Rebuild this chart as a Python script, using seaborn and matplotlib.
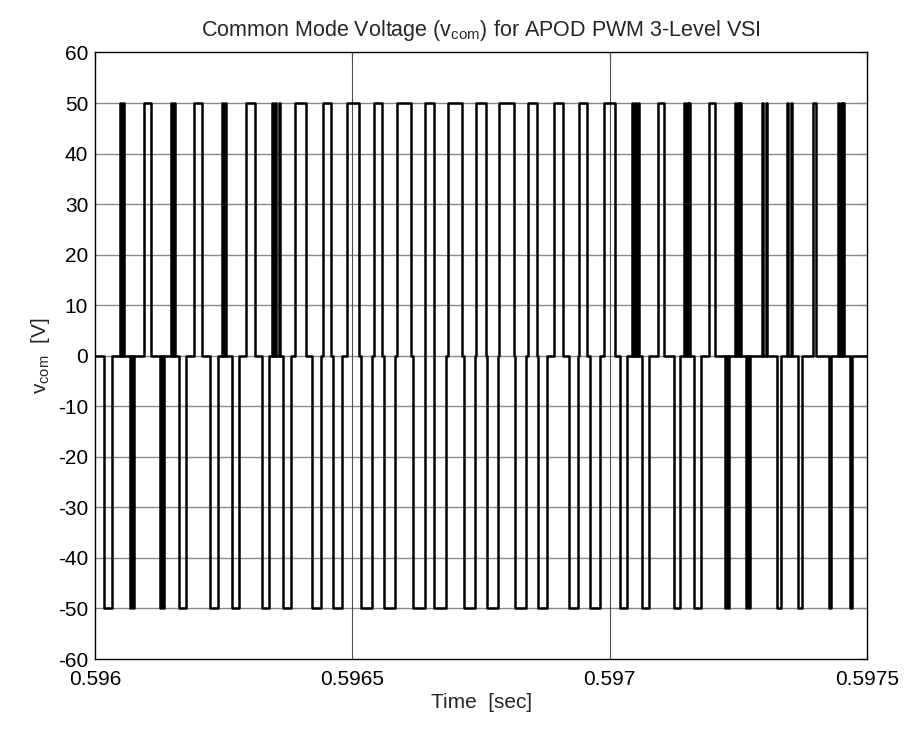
import numpy as np
import pandas as pd
import matplotlib
matplotlib.use("Agg")
import matplotlib.pyplot as plt
import seaborn as sns

sns.set_theme(style="white")
plt.rcParams['font.family'] = ['Liberation Sans', 'DejaVu Sans']
plt.rcParams['mathtext.fontset'] = 'custom'
plt.rcParams['mathtext.rm'] = 'Liberation Sans'
plt.rcParams['axes.unicode_minus'] = False

# ---- data (time offsets in microseconds after t0 = 0.596 s) ----
t0 = 0.596
pos_on = [47.6, 53.4, 95.6, 148.1, 153.1, 192.7, 245.8, 251.6, 293.8,
          344.3, 349.7, 357.1, 389.0, 443.4, 490.0, 542.5, 587.2, 641.6,
          686.3, 740.7, 785.4, 841.7, 892.2, 940.8, 989.4, 1043.8, 1049.2,
          1054.7, 1094.3, 1144.8, 1149.3, 1153.8, 1193.4, 1243.9, 1248.4,
          1252.8, 1296.4, 1303.4, 1344.9, 1351.9, 1395.5, 1444.0, 1448.5,
          1453.0]
pos_off = [49.5, 55.4, 108.4, 150.0, 155.1, 207.5, 247.7, 253.6, 310.5,
           346.2, 351.7, 359.1, 409.6, 458.2, 512.6, 557.3, 613.6, 658.3,
           712.7, 759.3, 813.7, 858.4, 908.9, 955.6, 1010.0, 1045.7, 1051.2,
           1056.6, 1105.2, 1146.8, 1151.3, 1155.7, 1204.3, 1245.8, 1250.3,
           1254.8, 1298.3, 1305.3, 1346.9, 1353.9, 1400.5, 1446.0, 1450.4,
           1454.9]
neg_on = [17.9, 68.0, 73.8, 126.3, 132.1, 163.6, 223.8, 266.6, 324.9,
          365.7, 422.0, 462.8, 517.2, 561.9, 618.3, 659.1, 717.3, 762.0,
          816.4, 861.1, 921.4, 962.2, 1020.5, 1063.2, 1125.4, 1164.3,
          1224.1, 1229.9, 1264.9, 1270.7, 1325.5, 1366.3, 1426.6, 1467.4]
neg_off = [32.6, 69.9, 75.8, 128.2, 134.1, 176.4, 238.6, 279.4, 337.7,
           380.4, 438.7, 479.5, 537.8, 582.5, 640.8, 681.6, 737.9, 782.6,
           837.0, 877.8, 938.1, 980.8, 1033.3, 1076.0, 1136.3, 1177.1,
           1226.1, 1231.9, 1266.8, 1272.6, 1332.5, 1373.3, 1429.7, 1470.5]
pos_level = 50.0
neg_level = -50.0
t_end_us = 1500.0

# ---- build step waveform ----
pulses = [(a, b, pos_level) for a, b in zip(pos_on, pos_off)] + \
         [(a, b, neg_level) for a, b in zip(neg_on, neg_off)]
pulses.sort()
xs, ys = [0.0], [0.0]
for a, b, lv in pulses:
    xs += [a, a, b, b]
    ys += [0.0, lv, lv, 0.0]
xs.append(t_end_us)
ys.append(0.0)
df = pd.DataFrame({"t": t0 + np.array(xs) * 1e-6, "v": ys})

fig = plt.figure(figsize=(9.06, 7.29), dpi=100)
ax = fig.add_axes([0.105, 0.096, 0.852, 0.832])

ax.set_xlim(0.596, 0.5975)
ax.set_ylim(-60, 60)
xt = [0.596, 0.5965, 0.597, 0.5975]
ax.set_xticks(xt)
ax.set_xticklabels(["0.596", "0.5965", "0.597", "0.5975"])
ax.set_yticks(np.arange(-60, 61, 10))
for y in np.arange(-50, 51, 10):
    ax.axhline(y, color="#8a8a8a", lw=1.0, zorder=1)
for x in xt[1:-1]:
    ax.axvline(x, color="#505050", lw=0.8, zorder=1)

sns.lineplot(data=df, x="t", y="v", sort=False, estimator=None,
             color="black", lw=1.8, ax=ax, zorder=3)

for s in ax.spines.values():
    s.set_color("black")
    s.set_linewidth(1.0)
ax.tick_params(direction="in", length=5, width=0.8, top=True, right=True,
               labelsize=15, colors="black")
ax.tick_params(axis="x", pad=8)
ax.tick_params(axis="y", pad=5)
ax.set_title(r"Common Mode Voltage (v$_\mathregular{com}$) for APOD PWM 3-Level VSI",
             fontsize=15.5, pad=12)
ax.set_xlabel("Time  [sec]", fontsize=15, labelpad=3)
ax.set_ylabel(r"v$_\mathregular{com}$  [V]", fontsize=15, labelpad=4)

fig.savefig("out.png", dpi=100, facecolor="white")
